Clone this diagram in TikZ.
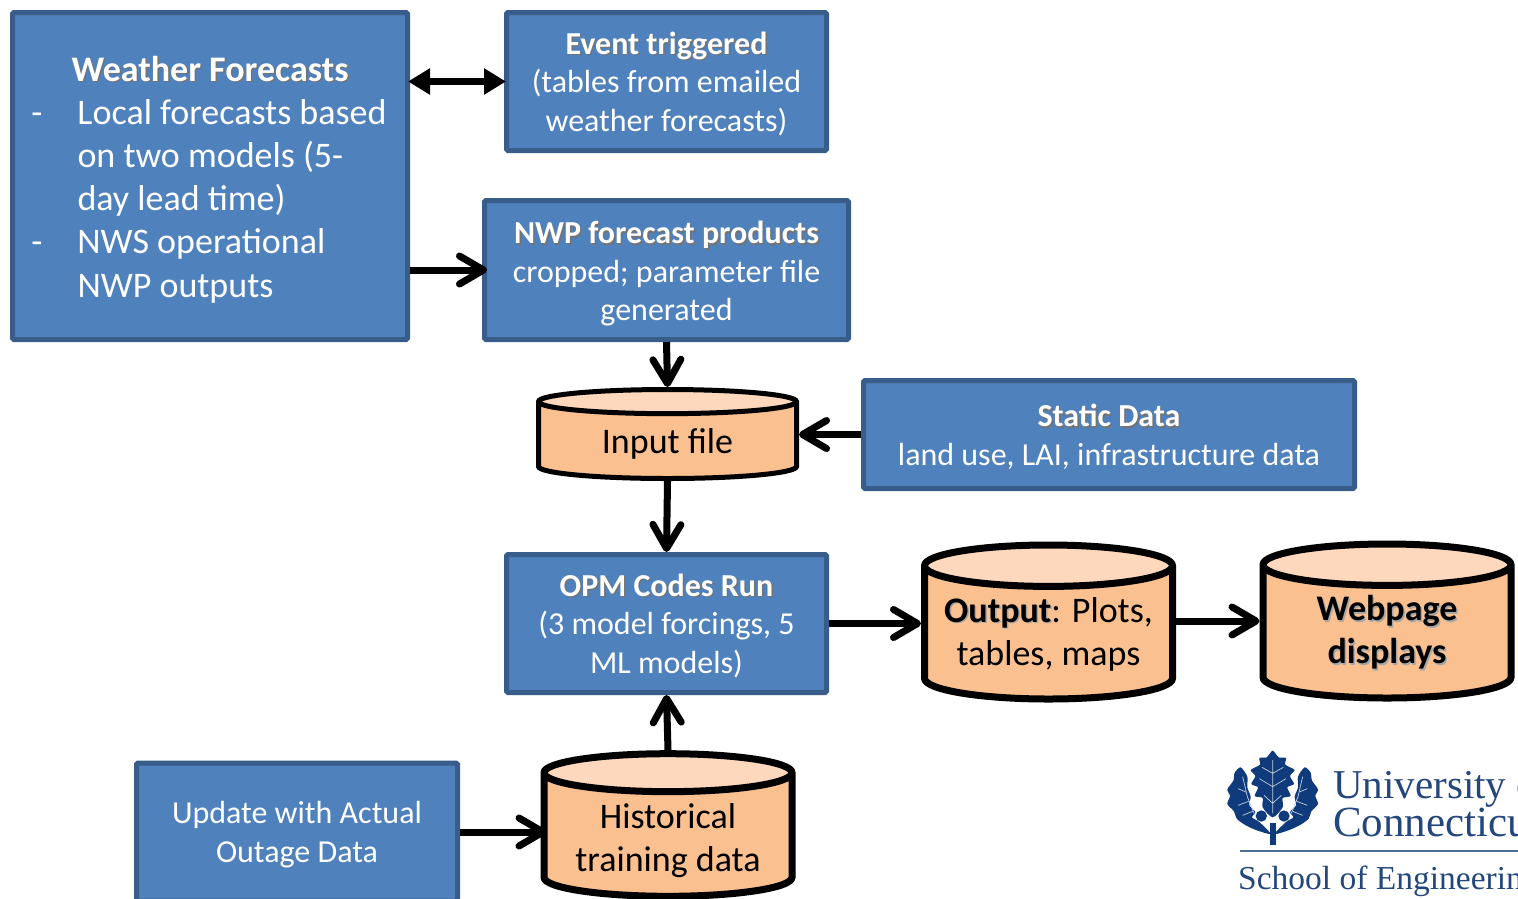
\documentclass[tikz,border=0pt]{standalone}
\usepackage{fontspec}
\setmainfont{Carlito}
\newfontfamily\logofont{Liberation Serif}
\usetikzlibrary{arrows.meta,shapes.geometric}
\definecolor{boxfill}{HTML}{4F81BD}
\definecolor{boxline}{HTML}{385D8A}
\definecolor{drumfill}{HTML}{FAC090}
\definecolor{drumtop}{HTML}{FDD8BC}
\definecolor{logoblue}{HTML}{0F3A7C}
\definecolor{logotext}{HTML}{23467C}
\newcommand{\headwhite}[1]{\leavevmode\rlap{\kern1.5pt\raisebox{-1.5pt}{\textcolor{black!55}{\textbf{#1}}}}\textbf{#1}}
\newcommand{\headblack}[1]{\leavevmode\rlap{\kern1.5pt\raisebox{-1.5pt}{\textcolor{black!35}{\textbf{#1}}}}\textbf{#1}}
\newcommand{\dashgap}{55pt}
\newcommand{\lowertext}{\rule{0pt}{27pt}}
\tikzset{
  bluebox/.style={draw=boxline, fill=boxfill, line width=5pt, rounded corners=1.5pt, text=white, align=flush center, inner sep=0pt, font=\fontsize{32}{38.5}\selectfont},
  drum/.style={shape=cylinder, shape border rotate=90, anchor=shape center, draw=black, cylinder uses custom fill, cylinder body fill=drumfill, cylinder end fill=drumtop, align=flush center, inner sep=0pt, text=black, text width=230pt, font=\fontsize{36}{43}\selectfont},
  thinarrow/.style={line width=7pt, -{Straight Barb[length=24pt,width=28pt,round,line width=7pt]}},
}
\begin{document}
\begin{tikzpicture}[x=1pt, y=-1pt]
  \useasboundingbox (0,0) rectangle (1518,898);
  \node [bluebox, minimum width=395pt, minimum height=327pt, text width=375pt, align=flush left, font=\fontsize{36}{43.2}\selectfont, execute at begin node={\rule{0pt}{32pt}}] (weather) at (210,176) {%
    \hspace*{49pt}\headwhite{Weather Forecasts}\\
    \makebox[\dashgap][l]{\hspace{9pt}-}Local forecasts based\\
    \hspace*{\dashgap}on two models (5-\\
    \hspace*{\dashgap}day lead time)\\
    \makebox[\dashgap][l]{\hspace{9pt}-}NWS operational\\
    \hspace*{\dashgap}NWP outputs};
  \node [bluebox, minimum width=320pt, minimum height=138pt] (event) at (666.5,81.5) {\lowertext\headwhite{Event triggered}\\(tables from emailed\\weather forecasts)};
  \node [bluebox, minimum width=364pt, minimum height=139pt] (nwp) at (666.5,270) {\rule{0pt}{30pt}\headwhite{NWP forecast products}\\cropped; parameter file\\generated};
  \node [bluebox, minimum width=491pt, minimum height=108pt] (static) at (1109,434.5) {\lowertext\headwhite{Static Data}\\land use, LAI, infrastructure data};
  \node [bluebox, minimum width=320pt, minimum height=138pt] (opm) at (666.5,623.5) {\lowertext\headwhite{OPM Codes Run}\\(3 model forcings, 5\\ML models)};
  \node [bluebox, minimum width=321pt, minimum height=138pt] (update) at (297,832) {\lowertext Update with Actual\\Outage Data};
  \node [drum, line width=5pt, aspect=0.105, minimum width=258pt, minimum height=89pt] (input) at (667.5,434) {\rule{0pt}{30pt}Input file};
  \node [drum, line width=7pt, aspect=0.18, minimum width=248pt, minimum height=154pt] (output) at (1048.5,622) {\headblack{Output}: Plots,\\tables, maps};
  \node [drum, line width=7pt, aspect=0.18, minimum width=248pt, minimum height=154pt] (webpage) at (1387,621) {\headblack{Webpage}\\\headblack{displays}};
  \node [drum, line width=7pt, aspect=0.165, minimum width=248pt, minimum height=118pt] (historical) at (668,825) {\rule{0pt}{33pt}Historical\\training data};
  % connectors
  \draw [line width=7pt, shorten <=-2pt, shorten >=-2pt, {Triangle[length=22pt,width=25pt]}-{Triangle[length=22pt,width=25pt]}] (weather.east |- event.west) -- (event.west);
  \draw [thinarrow, shorten >=-5pt] (weather.east |- nwp.west) -- (nwp.west);
  \draw [thinarrow] (nwp.south) -- (input.north);
  \draw [thinarrow] (static.west) -- (static.west -| input.east);
  \draw [thinarrow] (input.south) -- (opm.north);
  \draw [thinarrow] (opm.east) -- (opm.east -| output.west);
  \draw [thinarrow] (output.east |- webpage.shape center) -- (webpage.west |- webpage.shape center);
  \draw [thinarrow] (historical.north) -- (opm.south);
  \draw [thinarrow, shorten >=-6pt] (update.east) -- (update.east -| historical.west);
  % logo
  \begin{scope}[shift={(1200,730)}, x=0.3333pt, y=-0.3333pt, fill=logoblue]
    \fill plot[smooth cycle, tension=0.45] coordinates {(218,62) (236,82) (258,84) (256,104) (284,120) (270,138) (282,162) (262,172) (272,198) (248,204) (248,232) (218,262) (188,232) (188,204) (164,198) (174,172) (154,162) (166,138) (152,120) (180,104) (178,84) (200,82)};
    \foreach \flip in {1,-1} {
      \begin{scope}[shift={(218,0)}, xscale=\flip]
        \fill plot[smooth cycle, tension=0.45] coordinates {(96,112) (114,128) (118,152) (136,178) (128,198) (136,222) (116,244) (108,266) (84,284) (50,300) (6,312) (40,276) (62,262) (52,246) (70,226) (66,200) (76,172) (76,140)};
        \fill (34,258) circle (17);
        \draw [white!75!logoblue, line width=0.7pt] (90,140) -- (76,200) -- (56,250);
        \draw [white!75!logoblue, line width=0.7pt] (80,186) -- (104,176) (72,214) -- (104,226) (60,244) -- (90,256);
      \end{scope}
    }
    \fill (209,280) rectangle (228,345);
    \draw [white!75!logoblue, line width=0.7pt] (218,90) -- (218,250) (218,130) -- (186,112) (218,130) -- (250,112) (218,170) -- (178,146) (218,170) -- (258,146) (218,220) -- (192,196) (218,220) -- (244,196);
  \end{scope}
  \node [anchor=base west, inner sep=0pt, text=logotext, font=\logofont\fontsize{41}{41}\selectfont] (university) at (1333,798) {University of};
  \node [anchor=base west, inner sep=0pt, text=logotext, font=\logofont\fontsize{43}{43}\selectfont] (connecticut) at (1333,836) {Connecticut};
  \node [anchor=base west, inner sep=0pt, text=logotext, font=\logofont\fontsize{33.5}{33.5}\selectfont] (school) at (1238,889) {School of Engineering};
  \coordinate (ruleend) at (1518,851);
  \draw [draw=logotext!80, line width=1.5pt] (1240,851) -- (ruleend);
\end{tikzpicture}
\end{document}
